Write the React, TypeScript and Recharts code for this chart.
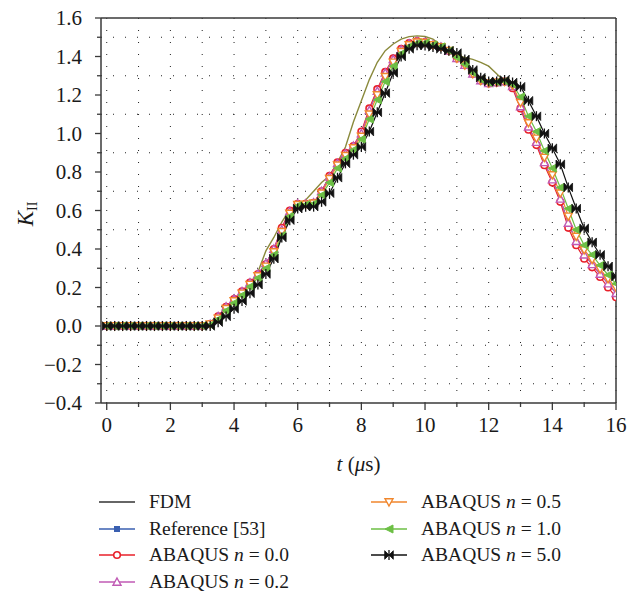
import React from 'react';
import { LineChart, Line, XAxis, YAxis, ReferenceLine } from 'recharts';

// time axis, microseconds
const T = [
  0, 0.25, 0.5, 0.75, 1, 1.25, 1.5, 1.75, 2, 2.25, 2.5, 2.75, 3, 3.25, 3.5, 3.75,
  4, 4.25, 4.5, 4.75, 5, 5.25, 5.5, 5.75, 6, 6.25, 6.5, 6.75, 7, 7.25, 7.5, 7.75,
  8, 8.25, 8.5, 8.75, 9, 9.25, 9.5, 9.75, 10, 10.25, 10.5, 10.75, 11, 11.25, 11.5, 11.75,
  12, 12.25, 12.5, 12.75, 13, 13.25, 13.5, 13.75, 14, 14.25, 14.5, 14.75, 15, 15.25, 15.5, 15.75, 16,
];

const FDM = [
  0, 0, 0, 0, 0, 0, 0, 0, 0, 0, 0, 0, 0, 0.01, 0.05, 0.1,
  0.14, 0.18, 0.225, 0.27, 0.325, 0.4, 0.5, 0.595, 0.635, 0.635, 0.64, 0.7, 0.775, 0.845, 0.895, 0.935,
  1.0, 1.12, 1.22, 1.315, 1.385, 1.435, 1.467, 1.478, 1.474, 1.46, 1.45, 1.43, 1.39, 1.355, 1.31, 1.275,
  1.26, 1.265, 1.27, 1.245, 1.14, 1.035, 0.955, 0.85, 0.76, 0.66, 0.535, 0.44, 0.37, 0.32, 0.27, 0.22, 0.17,
];

// reference curve stops at 12.5 us
const REF53 = [
  0, 0, 0, 0, 0, 0, 0, 0, 0, 0, 0, 0, 0, 0.02, 0.055, 0.09,
  0.13, 0.17, 0.22, 0.28, 0.39, 0.46, 0.54, 0.605, 0.63, 0.655, 0.7, 0.745, 0.78, 0.85, 0.93, 1.06,
  1.17, 1.28, 1.37, 1.43, 1.465, 1.49, 1.503, 1.507, 1.504, 1.49, 1.46, 1.43, 1.405, 1.395, 1.385, 1.37,
  1.35, 1.31, 1.27,
];

const N00 = [
  0, 0, 0, 0, 0, 0, 0, 0, 0, 0, 0, 0, 0, 0.01, 0.05, 0.1,
  0.14, 0.18, 0.225, 0.27, 0.32, 0.4, 0.51, 0.6, 0.635, 0.635, 0.64, 0.7, 0.78, 0.85, 0.9, 0.935,
  1.01, 1.13, 1.23, 1.32, 1.39, 1.44, 1.47, 1.48, 1.475, 1.46, 1.45, 1.43, 1.39, 1.355, 1.31, 1.275,
  1.26, 1.265, 1.27, 1.235, 1.13, 1.02, 0.94, 0.835, 0.745, 0.645, 0.51, 0.42, 0.35, 0.305, 0.255, 0.2, 0.15,
];

const N02 = [
  0, 0, 0, 0, 0, 0, 0, 0, 0, 0, 0, 0, 0, 0.01, 0.05, 0.1,
  0.14, 0.18, 0.225, 0.27, 0.325, 0.4, 0.5, 0.595, 0.635, 0.635, 0.64, 0.7, 0.775, 0.845, 0.895, 0.935,
  1.0, 1.12, 1.22, 1.315, 1.385, 1.435, 1.467, 1.478, 1.474, 1.46, 1.45, 1.43, 1.39, 1.355, 1.31, 1.275,
  1.26, 1.265, 1.27, 1.245, 1.14, 1.035, 0.955, 0.85, 0.76, 0.66, 0.535, 0.44, 0.37, 0.32, 0.27, 0.22, 0.17,
];

const N05 = [
  0, 0, 0, 0, 0, 0, 0, 0, 0, 0, 0, 0, 0, 0.01, 0.04, 0.09,
  0.13, 0.17, 0.215, 0.26, 0.31, 0.385, 0.49, 0.585, 0.63, 0.632, 0.638, 0.69, 0.765, 0.835, 0.885, 0.925,
  0.985, 1.1, 1.2, 1.295, 1.37, 1.425, 1.46, 1.474, 1.472, 1.46, 1.45, 1.43, 1.39, 1.355, 1.31, 1.275,
  1.262, 1.266, 1.27, 1.25, 1.16, 1.055, 0.975, 0.875, 0.785, 0.69, 0.57, 0.465, 0.395, 0.345, 0.295, 0.245, 0.2,
];

const N10 = [
  0, 0, 0, 0, 0, 0, 0, 0, 0, 0, 0, 0, 0, 0.005, 0.035, 0.08,
  0.12, 0.16, 0.205, 0.25, 0.3, 0.37, 0.47, 0.57, 0.625, 0.63, 0.635, 0.68, 0.745, 0.82, 0.87, 0.915,
  0.97, 1.075, 1.175, 1.27, 1.35, 1.415, 1.452, 1.468, 1.47, 1.46, 1.45, 1.43, 1.395, 1.36, 1.315, 1.28,
  1.265, 1.268, 1.272, 1.255, 1.19, 1.09, 1.01, 0.91, 0.82, 0.72, 0.61, 0.5, 0.42, 0.37, 0.315, 0.265, 0.22,
];

const N50 = [
  0, 0, 0, 0, 0, 0, 0, 0, 0, 0, 0, 0, 0, 0, 0.02, 0.05,
  0.09, 0.13, 0.17, 0.215, 0.27, 0.35, 0.46, 0.55, 0.61, 0.62, 0.62, 0.645, 0.69, 0.77, 0.845, 0.89,
  0.93, 1.01, 1.11, 1.21, 1.315, 1.4, 1.44, 1.458, 1.457, 1.45, 1.44, 1.43, 1.418, 1.385, 1.33, 1.29,
  1.27, 1.27, 1.278, 1.265, 1.243, 1.17, 1.09, 1.0, 0.923, 0.84, 0.72, 0.61, 0.507, 0.435, 0.37, 0.31, 0.256,
];

const X_TICKS = [0, 1, 2, 3, 4, 5, 6, 7, 8, 9, 10, 11, 12, 13, 14, 15, 16];
const Y_TICKS = [-0.4, -0.3, -0.2, -0.1, 0, 0.1, 0.2, 0.3, 0.4, 0.5, 0.6, 0.7, 0.8, 0.9, 1.0, 1.1, 1.2, 1.3, 1.4, 1.5, 1.6];
const GRID_X = [0, 1, 2, 3, 4, 5, 6, 7, 8, 9, 10, 11, 12, 13, 14, 15, 16];
const GRID_Y = [-0.3, -0.1, 0.1, 0.3, 0.5, 0.7, 0.9, 1.1, 1.3, 1.5];

const data = T.map((t, i) => ({
  t,
  fdm: FDM[i],
  ref53: i < REF53.length ? REF53[i] : null,
  n00: N00[i],
  n02: N02[i],
  n05: N05[i],
  n10: N10[i],
  n50: N50[i],
}));

const FONT = '"Liberation Serif", "Times New Roman", serif';
const AXIS = '#3a3a3a';

const RED = '#e8202a';
const PINK = '#c05ab4';
const ORANGE = '#f0862c';
const GREEN = '#6cbf45';
const BLACK = '#111111';
const OLIVE = '#8a8a3c';
const BLUE = '#3a5fb0';

// marker shapes
const drawMarker = (shape: string, color: string, cx: number, cy: number, key?: any) => {
  const s = 4;
  switch (shape) {
    case 'circle':
      return <circle key={key} cx={cx} cy={cy} r={3.3} fill="#fff" stroke={color} strokeWidth={1.6} />;
    case 'square':
      return <rect key={key} x={cx - 3} y={cy - 3} width={6} height={6} fill={color} />;
    case 'up':
      return (
        <polygon key={key} points={`${cx},${cy - s} ${cx + s},${cy + s * 0.8} ${cx - s},${cy + s * 0.8}`}
          fill="#fff" stroke={color} strokeWidth={1.4} />
      );
    case 'down':
      return (
        <polygon key={key} points={`${cx},${cy + s} ${cx + s},${cy - s * 0.8} ${cx - s},${cy - s * 0.8}`}
          fill="#fff" stroke={color} strokeWidth={1.4} />
      );
    case 'left':
      return (
        <polygon key={key} points={`${cx - s},${cy} ${cx + s},${cy - s} ${cx + s},${cy + s}`}
          fill={color} stroke={color} strokeWidth={1} />
      );
    case 'bowtie':
      return (
        <g key={key}>
          <polygon points={`${cx - 4.3},${cy - 4.3} ${cx + 4.3},${cy + 4.3} ${cx + 4.3},${cy - 4.3} ${cx - 4.3},${cy + 4.3}`}
            fill={color} stroke={color} strokeWidth={0.8} />
          <line x1={cx} y1={cy - 5} x2={cx} y2={cy + 5} stroke={color} strokeWidth={1.3} />
        </g>
      );
    default:
      return <g key={key} />;
  }
};

const dotFn = (shape: string, color: string) => (props: any) => {
  const { cx, cy, index } = props;
  if (cx == null || cy == null || Number.isNaN(cy)) return <g key={`e-${index}`} />;
  return drawMarker(shape, color, cx, cy, `m-${index}`);
};

const XTick = (props: any) => {
  const { x, y, payload } = props;
  const v = payload.value;
  const major = v % 2 === 0;
  return (
    <g>
      <line x1={x} y1={y} x2={x} y2={y + (major ? 7 : 4)} stroke={AXIS} strokeWidth={1.3} />
      {major && (
        <text x={x} y={y + 29} textAnchor="middle" fontFamily={FONT} fontSize={21} fill="#1a1a1a">
          {v}
        </text>
      )}
    </g>
  );
};

const YTick = (props: any) => {
  const { x, y, payload } = props;
  const v = payload.value;
  const major = Math.round(v * 10) % 2 === 0;
  const label = v.toFixed(1).replace('-', '\u2212');
  return (
    <g>
      <line x1={x} y1={y} x2={x - (major ? 6 : 4)} y2={y} stroke={AXIS} strokeWidth={1.3} />
      {major && (
        <text x={x - 19} y={y + 7} textAnchor="end" fontFamily={FONT} fontSize={21} fill="#1a1a1a">
          {label}
        </text>
      )}
    </g>
  );
};

const LEGEND = [
  { name: 'FDM', n: '', color: '#333', shape: 'none', col: 0, row: 0 },
  { name: 'Reference [53]', n: '', color: BLUE, shape: 'square', col: 0, row: 1 },
  { name: 'ABAQUS ', n: '0.0', color: RED, shape: 'circle', col: 0, row: 2 },
  { name: 'ABAQUS ', n: '0.2', color: PINK, shape: 'up', col: 0, row: 3 },
  { name: 'ABAQUS ', n: '0.5', color: ORANGE, shape: 'down', col: 1, row: 0 },
  { name: 'ABAQUS ', n: '1.0', color: GREEN, shape: 'left', col: 1, row: 1 },
  { name: 'ABAQUS ', n: '5.0', color: BLACK, shape: 'bowtie', col: 1, row: 2 },
];

const Legend = () => (
  <>
    {LEGEND.map((e, i) => {
      const left = e.col === 0 ? 98 : 370;
      const top = 490 + e.row * 26.5;
      return (
        <div key={i} style={{ position: 'absolute', left, top, height: 24, display: 'flex', alignItems: 'center' }}>
          <svg width={38} height={14} style={{ display: 'block' }}>
            <line x1={1} y1={7} x2={37} y2={7} stroke={e.color} strokeWidth={1.4} />
            {e.shape !== 'none' && drawMarker(e.shape, e.color, 19, 7)}
          </svg>
          <span style={{ fontFamily: FONT, fontSize: 19.5, color: '#1a1a1a', marginLeft: 13, whiteSpace: 'nowrap' }}>
            {e.name}
            {e.n && (
              <>
                <i>n</i> = {e.n}
              </>
            )}
          </span>
        </div>
      );
    })}
  </>
);

const App = () => {
  return (
    <div style={{ position: 'absolute', left: 0, top: 0, width: 640, height: 592, background: '#fff' }}>
      <LineChart width={640} height={480} data={data} margin={{ top: 18, right: 24, bottom: 0, left: 0 }}>
        {GRID_X.map((g) => (
          <ReferenceLine key={`gx-${g}`} x={g} stroke="#222" strokeWidth={1} strokeDasharray="1 11" />
        ))}
        {GRID_Y.map((g) => (
          <ReferenceLine key={`gy-${g}`} y={g} stroke="#222" strokeWidth={1} strokeDasharray="1 11" />
        ))}
        <ReferenceLine y={1.6} stroke={AXIS} strokeWidth={1.5} />
        <ReferenceLine x={16} stroke={AXIS} strokeWidth={1.5} />
        <XAxis
          dataKey="t"
          type="number"
          domain={[-0.18, 16]}
          ticks={X_TICKS}
          interval={0}
          allowDataOverflow
          tickSize={0}
          tickMargin={0}
          tick={(p: any) => <XTick {...p} />}
          tickLine={false}
          axisLine={{ stroke: AXIS, strokeWidth: 1.5 }}
          height={77}
          label={{
            content: (p: any) => {
              const vb = p.viewBox || { x: 101, y: 403, width: 515 };
              return (
                <text x={vb.x + vb.width / 2} y={vb.y + 68} textAnchor="middle" fontFamily={FONT} fontSize={21} fill="#1a1a1a">
                  <tspan fontStyle="italic">t</tspan> (<tspan fontStyle="italic">μ</tspan>s)
                </text>
              );
            },
          }}
        />
        <YAxis
          type="number"
          domain={[-0.4, 1.6]}
          ticks={Y_TICKS}
          interval={0}
          allowDataOverflow
          width={101}
          tickSize={0}
          tickMargin={0}
          tick={(p: any) => <YTick {...p} />}
          tickLine={false}
          axisLine={{ stroke: AXIS, strokeWidth: 1.5 }}
          label={{
            content: () => (
              <text x={33} y={214} transform="rotate(-90 33 214)" textAnchor="middle" fontFamily={FONT} fontSize={23} fill="#1a1a1a">
                <tspan fontStyle="italic">K</tspan>
                <tspan fontSize={14} dy={4}>II</tspan>
              </text>
            ),
          }}
        />
        <Line dataKey="fdm" stroke="#333" strokeWidth={1} dot={false} isAnimationActive={false} />
        <Line dataKey="ref53" stroke={OLIVE} strokeWidth={1.4} dot={false} isAnimationActive={false} />
        <Line dataKey="n00" stroke={RED} strokeWidth={1.2} dot={dotFn('circle', RED)} isAnimationActive={false} />
        <Line dataKey="n02" stroke={PINK} strokeWidth={1.2} dot={dotFn('up', PINK)} isAnimationActive={false} />
        <Line dataKey="n05" stroke={ORANGE} strokeWidth={1.2} dot={dotFn('down', ORANGE)} isAnimationActive={false} />
        <Line dataKey="n10" stroke={GREEN} strokeWidth={1.2} dot={dotFn('left', GREEN)} isAnimationActive={false} />
        <Line dataKey="n50" stroke={BLACK} strokeWidth={1.2} dot={dotFn('bowtie', BLACK)} isAnimationActive={false} />
      </LineChart>
      <Legend />
    </div>
  );
};

export default App;
